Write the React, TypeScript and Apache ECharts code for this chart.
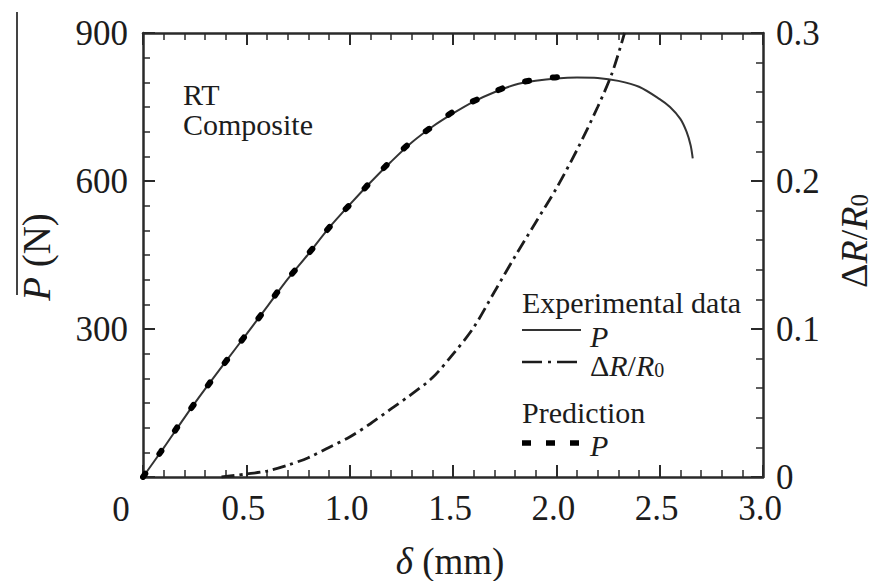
import React, { useEffect, useRef } from "react";
import * as echarts from "echarts";

// ---------- data ----------
const xTickLabels = ["0", "0.5", "1.0", "1.5", "2.0", "2.5", "3.0"];
const pTickLabels = ["", "300", "600", "900"];
const rTickLabels = ["0", "0.1", "0.2", "0.3"];

const expDelta = [0, 0.1, 0.2, 0.3, 0.4, 0.5, 0.6, 0.7, 0.8, 0.9, 1.0, 1.1, 1.2, 1.3, 1.4, 1.5, 1.6, 1.7, 1.8, 1.9, 2.0, 2.1, 2.2, 2.3, 2.4, 2.5, 2.55, 2.6, 2.63, 2.65, 2.66];
const expP = [0, 59, 120, 178, 234, 289, 345, 401, 452, 505, 552, 597, 639, 678, 710, 737, 761, 780, 795, 803, 808, 810, 809, 803, 791, 766, 750, 726, 700, 672, 646];

const drDelta = [0.38, 0.5, 0.6, 0.7, 0.8, 0.9, 1.0, 1.1, 1.2, 1.3, 1.4, 1.5, 1.6, 1.7, 1.8, 1.9, 2.0, 2.1, 2.2, 2.27, 2.33];
const drValue = [0, 0.002, 0.004, 0.008, 0.013, 0.02, 0.027, 0.036, 0.046, 0.056, 0.067, 0.083, 0.101, 0.125, 0.149, 0.172, 0.195, 0.221, 0.25, 0.273, 0.3];

const predDelta = [0, 0.086, 0.168, 0.248, 0.327, 0.413, 0.498, 0.579, 0.663, 0.747, 0.832, 0.921, 1.014, 1.103, 1.195, 1.3, 1.413, 1.525, 1.655, 1.784, 1.909, 2.037, 2.05];
const predP = [0, 51, 102, 148, 193, 241, 288, 333, 382, 425, 469, 516, 558, 599, 639, 680, 714, 747, 772, 795, 806, 811, 811];

const FONT = "Liberation Serif";
const INK = "#1c1c1c";
const AXIS = "#2a2a2a";

function zip(a: number[], b: number[]) {
  return a.map((v, i) => [v, b[i]]);
}

function richSet(big: number, small: number, drop: number, lh: number) {
  return {
    n: { fontFamily: FONT, fontSize: big, lineHeight: lh, verticalAlign: "top", color: INK },
    i: { fontFamily: FONT, fontSize: big, fontStyle: "italic", lineHeight: lh, verticalAlign: "top", color: INK },
    s: { fontFamily: FONT, fontSize: small, lineHeight: small, padding: [drop, 0, 0, 0], verticalAlign: "top", color: INK },
  };
}

function txt(x: number, y: number, text: string, size: number, italic = false, align = "left", lh = size) {
  return {
    type: "text", x, y,
    style: {
      text: `{${italic ? "i" : "n"}|${text}}`,
      fill: INK, align, verticalAlign: "middle",
      rich: richSet(size, size, 0, lh),
    },
  };
}

export default function App() {
  const ref = useRef<HTMLDivElement>(null);
  useEffect(() => {
    document.body.style.margin = "0";
    if (!ref.current) return;
    const chart = echarts.init(ref.current, null, { renderer: "svg" });

    const tickCommon = {
      axisLine: { show: true, onZero: false, lineStyle: { color: AXIS, width: 2.5 } },
      axisTick: { show: true, inside: true, length: 12, lineStyle: { color: AXIS, width: 2 } },
      splitLine: { show: false },
    };

    const labelStyle = { fontFamily: FONT, fontSize: 35, color: INK };

    const option: any = {
      animation: false,
      backgroundColor: "#ffffff",
      grid: { left: 143, right: 114, top: 33, bottom: 104, containLabel: false, outerBoundsMode: "none" },
      xAxis: [
        {
          type: "value", min: 0, max: 3, interval: 0.5, position: "bottom",
          ...tickCommon,
          minorTick: { show: true, splitNumber: 5, length: 7, lineStyle: { color: AXIS, width: 1.5 } },
          axisLabel: {
            ...labelStyle, margin: 14, padding: [0, 6, 0, 0],
            formatter: (v: number) => {
              const i = Math.round(v / 0.5);
              return i === 0 ? "" : xTickLabels[i];
            },
          },
        },
        {
          type: "value", min: 0, max: 3, interval: 0.5, position: "top",
          ...tickCommon,
          minorTick: { show: true, splitNumber: 5, length: 7, lineStyle: { color: AXIS, width: 1.5 } },
          axisLabel: { show: false },
        },
      ],
      yAxis: [
        {
          type: "value", min: 0, max: 900, interval: 300, position: "left",
          ...tickCommon,
          minorTick: { show: true, splitNumber: 6, length: 7, lineStyle: { color: AXIS, width: 1.5 } },
          axisLabel: {
            ...labelStyle, margin: 15, padding: [0, 0, 5, 0],
            formatter: (v: number) => pTickLabels[Math.round(v / 300)],
          },
        },
        {
          type: "value", min: 0, max: 0.3, interval: 0.1, position: "right",
          ...tickCommon,
          minorTick: { show: true, splitNumber: 5, length: 7, lineStyle: { color: AXIS, width: 1.5 } },
          axisLabel: {
            ...labelStyle, margin: 13, padding: [0, 0, 6, 0],
            formatter: (v: number) => rTickLabels[Math.round(v / 0.1)],
          },
        },
      ],
      series: [
        {
          name: "P (experimental)", type: "line", xAxisIndex: 0, yAxisIndex: 0,
          data: zip(expDelta, expP), showSymbol: false, symbol: "none", smooth: 0.3,
          lineStyle: { color: "#333", width: 2 },
        },
        {
          name: "ΔR/R0", type: "line", xAxisIndex: 0, yAxisIndex: 1,
          data: zip(drDelta, drValue), showSymbol: false, symbol: "none", smooth: 0.3,
          lineStyle: { color: INK, width: 2.8, type: [13, 5, 3, 5] },
        },
        {
          name: "P (prediction)", type: "line", xAxisIndex: 0, yAxisIndex: 0,
          data: zip(predDelta, predP), showSymbol: false, symbol: "none", smooth: 0.3,
          lineStyle: { color: "#000", width: 6, type: [4, 24], cap: "round" },
        },
      ],
      graphic: [
        // left axis name with the stray vertical rule
        { type: "line", shape: { x1: 17, y1: 12, x2: 17, y2: 295 }, style: { stroke: "#444", lineWidth: 2 } },
        {
          type: "text", x: 35, y: 257, rotation: Math.PI / 2,
          style: {
            text: "{i|P}{n| (N)}", fill: INK, align: "center", verticalAlign: "middle",
            rich: richSet(39, 26, 13, 36),
          },
        },
        // bottom axis name
        {
          type: "text", x: 450, y: 559,
          style: {
            text: "{i|δ}{n| (mm)}", fill: INK, align: "center", verticalAlign: "middle",
            rich: richSet(37, 26, 10, 32),
          },
        },
        // right axis name
        {
          type: "text", x: 853, y: 241, rotation: Math.PI / 2,
          style: {
            text: "{n|Δ}{i|R}{n|/}{i|R}{s|0}", fill: INK, align: "center", verticalAlign: "middle",
            rich: richSet(38, 25, 12, 36),
          },
        },
        // origin label
        txt(121, 509, xTickLabels[0], 35, false, "center"),
        // annotation
        txt(183, 94, "RT", 30),
        txt(183, 124, "Composite", 30),
        // legend
        txt(522, 302, "Experimental data", 30),
        { type: "line", shape: { x1: 522, y1: 330, x2: 581, y2: 330 }, style: { stroke: "#333", lineWidth: 2 } },
        txt(590, 332, "P", 30, true, "left", 22),
        { type: "line", shape: { x1: 522, y1: 362, x2: 581, y2: 362 }, style: { stroke: INK, lineWidth: 2.5, lineDash: [20, 6, 3, 6] } },
        {
          type: "text", x: 590, y: 350,
          style: {
            text: "{n|Δ}{i|R}{n|/}{i|R}{s|0}", fill: INK, align: "left", verticalAlign: "top",
            rich: richSet(30, 20, 10, 24),
          },
        },
        txt(522, 412, "Prediction", 30),
        { type: "line", shape: { x1: 522, y1: 443, x2: 583, y2: 443 }, style: { stroke: "#000", lineWidth: 5.5, lineDash: [9, 15] } },
        txt(590, 443, "P", 30, true, "left", 26),
      ],
    };

    chart.setOption(option);
    return () => chart.dispose();
  }, []);

  return <div ref={ref} style={{ width: 877, height: 581 }} />;
}
